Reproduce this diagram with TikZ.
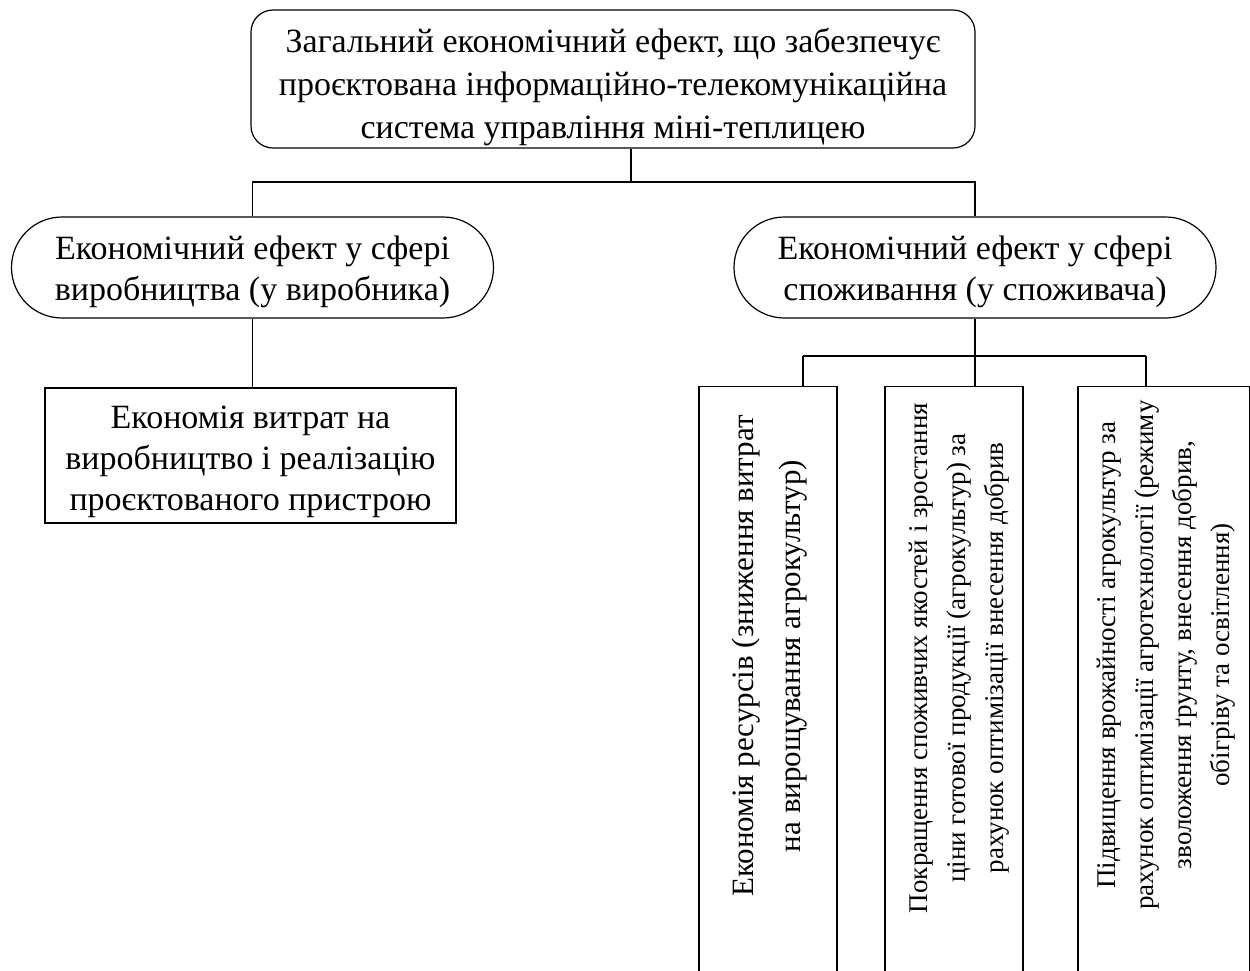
\documentclass[tikz,border=0pt]{standalone}
\usepackage{fontspec}
\setmainfont{Liberation Serif}
\begin{document}
\begin{tikzpicture}[x=1pt,y=-1pt,line width=1.2pt,
  bigtext/.style={font=\fontsize{34}{41}\selectfont,align=center,inner sep=0pt},
  midtext/.style={font=\fontsize{31}{47}\selectfont},
  smalltext/.style={font=\fontsize{27}{38}\selectfont},
  frame/.style={draw,inner sep=0pt},
  headbox/.style={frame,rounded corners=22pt,minimum width=724pt,minimum height=138pt},
  pill/.style={frame,rounded corners=50.5pt,minimum width=482pt,minimum height=101pt},
  plainbox/.style={frame,minimum width=411pt,minimum height=135pt},
  tallbox/.style={frame,minimum height=640pt,anchor=north},
  vtext/.style={rotate=90,align=center,inner sep=0pt}]
\useasboundingbox (0,0) rectangle (1250,970);
\clip (0,0) rectangle (1250,970);

% top level
\node[headbox] (top) at (613,79) {};
\node[bigtext,font=\fontsize{34}{43}\selectfont] (toptxt) at (613,87)
  {Загальний економічний ефект, що забезпечує\\проєктована інформаційно-телекомунікаційна\\система управління міні-теплицею};

% second level
\node[pill] (prod) at (252.5,267.5) {};
\node[bigtext] (prodtxt) at (252.5,272) {Економічний ефект у сфері\\виробництва (у виробника)};
\node[pill] (cons) at (975,267.5) {};
\node[bigtext] (constxt) at (975,272) {Економічний ефект у сфері\\споживання (у споживача)};

% producer branch
\node[plainbox] (costs) at (250.5,455.5) {};
\node[bigtext] (coststxt) at (250.5,462) {Економія витрат на\\виробництво і реалізацію\\проєктованого пристрою};

% consumer branch: tall frames and their rotated captions
\node[tallbox,minimum width=138pt] (f1) at (768,386) {};
\node[tallbox,minimum width=138pt] (f2) at (954,386) {};
\node[tallbox,minimum width=172pt] (f3) at (1164,386) {};
\node[vtext,midtext] (t1) at (770,656)
  {Економія ресурсів (зниження витрат\\на вирощування агрокультур)};
\node[vtext,smalltext] (t2) at (959,658)
  {Покращення споживчих якостей і зростання\\ціни готової продукції (агрокультур) за\\рахунок оптимізації внесення добрив};
\node[vtext,smalltext] (t3) at (1166,655)
  {Підвищення врожайності агрокультур за\\рахунок оптимізації агротехнології (режиму\\зволоження ґрунту, внесення добрив,\\обігріву та освітлення)};

% connectors
\coordinate (j0) at (631,182);
\coordinate (j1) at (975,356);
\coordinate (c1) at (803,356);
\coordinate (c3) at (1146,356);
\draw (top.south -| j0) -- (j0);
\draw (prod.north) |- (j0) -| (cons.north);
\draw (prod.south) -- (prod.south |- costs.north);
\draw (cons.south) -- (j1);
\draw (c1) -- (c3);
\draw (c1) -- (c1 |- f1.north);
\draw (j1) -- (j1 |- f2.north);
\draw (c3) -- (c3 |- f3.north);
\end{tikzpicture}
\end{document}
